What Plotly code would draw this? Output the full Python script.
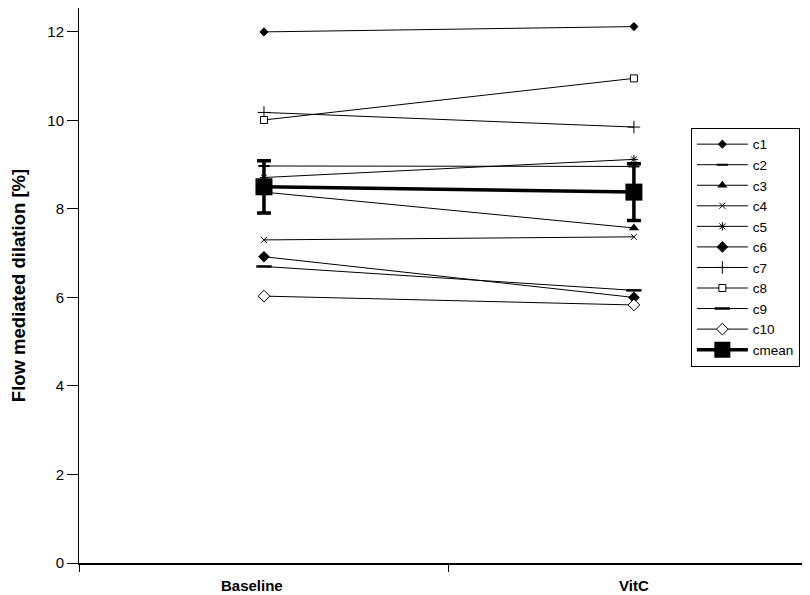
import plotly.graph_objects as go

categories = ["Baseline", "VitC"]
series_names = ["c1", "c2", "c3", "c4", "c5", "c6", "c7", "c8", "c9", "c10"]
c1 = [12.00, 12.12]
c2 = [8.97, 8.96]
c3 = [8.38, 7.57]
c4 = [7.30, 7.37]
c5 = [8.71, 9.12]
c6 = [6.92, 6.00]
c7 = [10.18, 9.85]
c8 = [10.01, 10.95]
c9 = [6.70, 6.16]
c10 = [6.03, 5.83]
cmean = [8.50, 8.38]
cmean_err = [0.59, 0.64]
series_values = [c1, c2, c3, c4, c5, c6, c7, c8, c9, c10]
y_ticks = [0, 2, 4, 6, 8, 10, 12]

styles = {
    "c1": dict(symbol="diamond", size=7, color="black", line=dict(width=0)),
    "c2": dict(symbol="line-ew", size=8, color="black", line=dict(width=2, color="black")),
    "c3": dict(symbol="triangle-up", size=9, color="black", line=dict(width=0)),
    "c4": dict(symbol="x-thin", size=6, color="black", line=dict(width=1, color="black")),
    "c5": dict(symbol="asterisk", size=7, color="black", line=dict(width=1, color="black")),
    "c6": dict(symbol="diamond", size=9, color="black", line=dict(width=0)),
    "c7": dict(symbol="cross-thin", size=9, color="black", line=dict(width=1, color="black")),
    "c8": dict(symbol="square", size=7, color="white", line=dict(width=1, color="black")),
    "c9": dict(symbol="line-ew", size=11, color="black", line=dict(width=2.5, color="black")),
    "c10": dict(symbol="diamond", size=9, color="white", line=dict(width=1, color="black")),
}

xpos = list(range(len(categories)))
fig = go.Figure()
for name, vals in zip(series_names, series_values):
    fig.add_trace(go.Scatter(
        x=xpos, y=vals, name=name, mode="lines+markers",
        line=dict(color="black", width=1), marker=styles[name]))

fig.add_trace(go.Scatter(
    x=xpos, y=cmean, name="cmean", mode="lines+markers",
    line=dict(color="black", width=3.5),
    marker=dict(symbol="square", size=17, color="black"),
    error_y=dict(type="data", array=cmean_err, color="black", thickness=3.5, width=7)))

fig.update_layout(
    width=802, height=587,
    paper_bgcolor="white", plot_bgcolor="white",
    margin=dict(l=71, r=0, t=0, b=32, autoexpand=False),
    font=dict(family="Liberation Sans, Arial, sans-serif", size=14, color="black"),
    showlegend=True,
    legend=dict(x=0.837, y=0.784, xanchor="left", yanchor="top",
                bordercolor="black", borderwidth=1, bgcolor="white",
                font=dict(size=13.5), itemwidth=51, tracegroupgap=0),
    xaxis=dict(range=[-0.5, 1.476], tickvals=[-0.5, 0.5], ticktext=["", ""],
               ticks="outside", ticklen=7, tickcolor="black", tickwidth=1,
               showline=True, linecolor="black", linewidth=2,
               showgrid=False, zeroline=False, fixedrange=True),
    yaxis=dict(range=[0, 12.54], tickvals=y_ticks, ticks="outside", ticklen=11,
               tickcolor="black", showline=True, linecolor="black", linewidth=1,
               showgrid=False, zeroline=False,
               tickfont=dict(size=15),
               title=dict(text="<b>Flow mediated dilation [%]</b>", font=dict(size=18.5), standoff=17)),
)

for i, cat in enumerate(categories):
    fig.add_annotation(x=i, y=0, xref="x", yref="y", text="<b>" + cat + "</b>",
                       showarrow=False, yanchor="top", yshift=-12,
                       xshift=-12 if i == 0 else 0,
                       font=dict(size=15, color="black"))

fig.write_html("out.html")
